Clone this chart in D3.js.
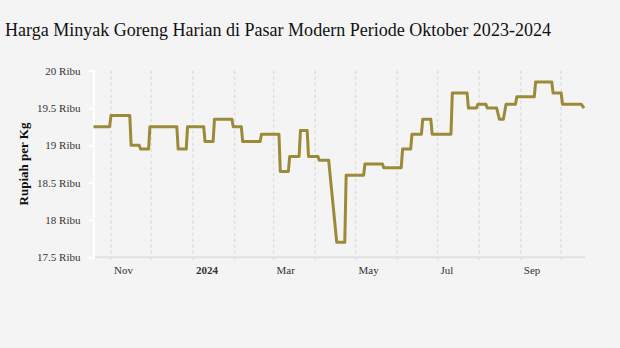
<!DOCTYPE html>
<html>
<head>
<meta charset="utf-8">
<script src="https://cdn.jsdelivr.net/npm/d3@7"></script>
<style>
  html, body { margin: 0; padding: 0; background: #f4f4f4; }
  svg { display: block; }
  text { font-family: "Liberation Serif", "Times New Roman", serif; }
</style>
</head>
<body>
<svg id="chart" width="620" height="348"></svg>
<script>
// Daily cooking-oil price in modern markets (Rupiah per kg), recorded at each price change
const dates = [
  "2023-10-19", "2023-10-31", "2023-11-01", "2023-11-15", "2023-11-16", "2023-11-22",
  "2023-11-23", "2023-11-29", "2023-11-30", "2023-12-20", "2023-12-21", "2023-12-27",
  "2023-12-28", "2024-01-09", "2024-01-10", "2024-01-16", "2024-01-17", "2024-01-30",
  "2024-01-31", "2024-02-06", "2024-02-07", "2024-02-20", "2024-02-21", "2024-03-05",
  "2024-03-06", "2024-03-12", "2024-03-13", "2024-03-20", "2024-03-21", "2024-03-26",
  "2024-03-27", "2024-04-03", "2024-04-04", "2024-04-11", "2024-04-17", "2024-04-23",
  "2024-04-24", "2024-05-07", "2024-05-08", "2024-05-21", "2024-05-22", "2024-06-04",
  "2024-06-05", "2024-06-11", "2024-06-12", "2024-06-19", "2024-06-20", "2024-06-26",
  "2024-06-27", "2024-07-11", "2024-07-12", "2024-07-23", "2024-07-24", "2024-07-30",
  "2024-07-31", "2024-08-06", "2024-08-07", "2024-08-14", "2024-08-16", "2024-08-19",
  "2024-08-21", "2024-08-28", "2024-08-29", "2024-09-11", "2024-09-12", "2024-09-24",
  "2024-09-25", "2024-10-01", "2024-10-02", "2024-10-16", "2024-10-18"
];
const prices = [
  19250, 19250, 19400, 19400, 19000, 19000,
  18950, 18950, 19250, 19250, 18950, 18950,
  19250, 19250, 19050, 19050, 19350, 19350,
  19250, 19250, 19050, 19050, 19150, 19150,
  18650, 18650, 18850, 18850, 19200, 19200,
  18850, 18850, 18800, 18800, 17700, 17700,
  18600, 18600, 18750, 18750, 18700, 18700,
  18950, 18950, 19150, 19150, 19350, 19350,
  19150, 19150, 19700, 19700, 19500, 19500,
  19550, 19550, 19500, 19500, 19350, 19350,
  19550, 19550, 19650, 19650, 19850, 19850,
  19700, 19700, 19550, 19550, 19500
];

const yTicks = [17500, 18000, 18500, 19000, 19500, 20000];
const xTickLabels = [
  { date: "2023-11-01", label: "Nov", bold: false },
  { date: "2024-01-01", label: "2024", bold: true },
  { date: "2024-03-01", label: "Mar", bold: false },
  { date: "2024-05-01", label: "May", bold: false },
  { date: "2024-07-01", label: "Jul", bold: false },
  { date: "2024-09-01", label: "Sep", bold: false }
];

const title = "Harga Minyak Goreng Harian di Pasar Modern Periode Oktober 2023-2024";
const yTitle = "Rupiah per Kg";

const parse = d3.utcParse("%Y-%m-%d");
const series = dates.map((d, i) => ({ date: parse(d), value: prices[i] }));

const svg = d3.select("#chart");
const margin = { left: 93.5, right: 36, top: 70.7, bottom: 90.7 };
const W = 620, H = 348;

const x = d3.scaleUtc()
  .domain([parse("2023-10-19"), parse("2024-10-18")])
  .range([margin.left, W - margin.right]);
const y = d3.scaleLinear()
  .domain([17500, 20000])
  .range([H - margin.bottom, margin.top]);

// Title (narrow setting)
svg.append("text")
  .attr("x", 5).attr("y", 36)
  .attr("font-size", 19.5)
  .attr("fill", "#111")
  .attr("textLength", 546)
  .attr("lengthAdjust", "spacingAndGlyphs")
  .text(title);

// Monthly dashed gridlines
const months = d3.utcMonth.range(parse("2023-11-01"), parse("2024-10-02"));
svg.append("g")
  .selectAll("line")
  .data(months)
  .join("line")
  .attr("x1", d => x(d)).attr("x2", d => x(d))
  .attr("y1", y(20000)).attr("y2", y(17500) + 4)
  .attr("stroke", "#dddddd")
  .attr("stroke-width", 1.5)
  .attr("stroke-dasharray", "3,3");

// X baseline
svg.append("line")
  .attr("x1", margin.left).attr("x2", W - margin.right + 1)
  .attr("y1", y(17500)).attr("y2", y(17500))
  .attr("stroke", "#e2e2e2")
  .attr("stroke-width", 2);

// Y axis
const yAxis = d3.axisLeft(y)
  .tickValues(yTicks)
  .tickSize(5)
  .tickPadding(8)
  .tickFormat(v => d3.format("~g")(v / 1000) + " Ribu");
const gy = svg.append("g")
  .attr("transform", `translate(${margin.left},0)`)
  .call(yAxis);
gy.select(".domain").attr("stroke", "#ffffff").attr("stroke-width", 2);
gy.selectAll(".tick line").attr("stroke", "#ffffff").attr("stroke-width", 2);
gy.selectAll(".tick text")
  .attr("font-family", "'Liberation Serif', 'Times New Roman', serif")
  .attr("font-size", 11)
  .attr("fill", "#333");

// X tick labels, left-aligned just after each month line
svg.append("g")
  .selectAll("text")
  .data(xTickLabels)
  .join("text")
  .attr("x", d => x(parse(d.date)) + 3)
  .attr("y", y(17500) + 17)
  .attr("font-size", 11)
  .attr("font-weight", d => d.bold ? "bold" : "normal")
  .attr("fill", "#333")
  .text(d => d.label);

// Y axis title
svg.append("text")
  .attr("transform", `translate(27.5,${(y(17500) + y(20000)) / 2}) rotate(-90)`)
  .attr("text-anchor", "middle")
  .attr("font-size", 13)
  .attr("font-weight", "bold")
  .attr("fill", "#111")
  .text(yTitle);

// Price line
const line = d3.line()
  .x(d => x(d.date))
  .y(d => y(d.value));
svg.append("path")
  .datum(series)
  .attr("d", line)
  .attr("fill", "none")
  .attr("stroke", "#9b8a37")
  .attr("stroke-width", 3)
  .attr("stroke-linejoin", "round");
</script>
</body>
</html>
